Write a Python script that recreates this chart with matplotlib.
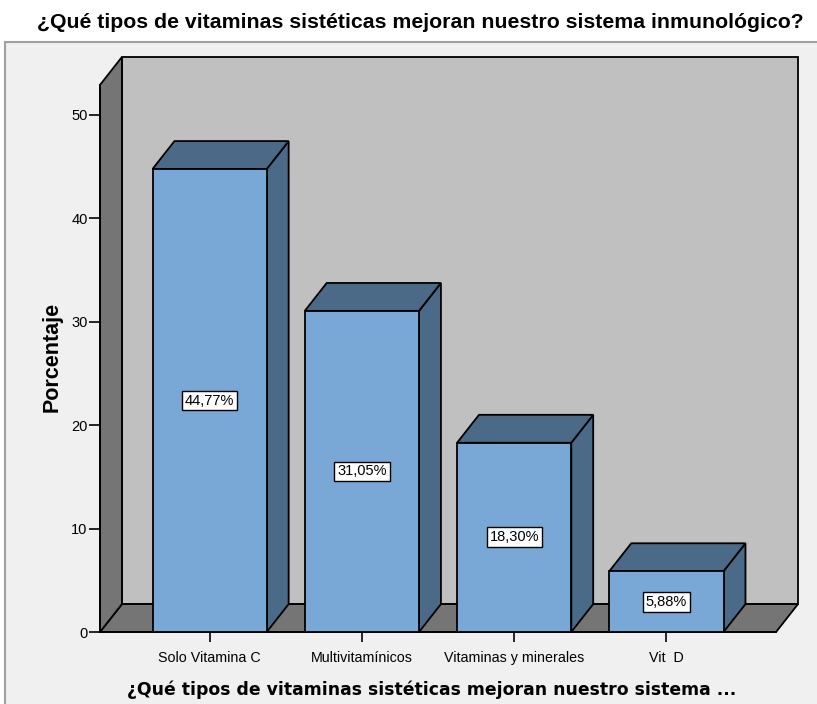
import matplotlib.pyplot as plt
from matplotlib.patches import Polygon, Rectangle

categories = ['Solo Vitamina C', 'Multivitamínicos', 'Vitaminas y minerales', 'Vit  D']
values = [44.77, 31.05, 18.30, 5.88]
yticks = [0, 10, 20, 30, 40, 50]

front_col = '#7aa8d6'
dark_col = '#4b6a87'
wall_col = '#c0c0c0'
side_col = '#757575'

fig = plt.figure(figsize=(8.17, 7.04), dpi=100)
fig.patch.set_facecolor('white')

# chart frame
fig.patches.append(Rectangle((5 / 817, -0.01), 1.0, (704 - 42) / 704 + 0.01,
                             transform=fig.transFigure, facecolor='#f0f0f0',
                             edgecolor='#a0a0a0', linewidth=1.5, zorder=-5))

ax = fig.add_axes([100 / 817, (704 - 632) / 704, 698 / 817, 575 / 704])
ax.set_facecolor('none')

x0, x1 = -0.72, 3.72
dx, dy = 0.144, 2.7
top = 52.9
w = 0.75
ax.set_xlim(x0, x1 + dx)
ax.set_ylim(0, top + dy)

ec = dict(edgecolor='black', linewidth=1.3, clip_on=False)
# back wall, floor, left wall
ax.add_patch(Polygon([(x0 + dx, dy), (x1 + dx, dy), (x1 + dx, top + dy), (x0 + dx, top + dy)],
                     facecolor=wall_col, zorder=1, **ec))
ax.add_patch(Polygon([(x0, 0), (x1, 0), (x1 + dx, dy), (x0 + dx, dy)],
                     facecolor=side_col, zorder=1, **ec))
ax.add_patch(Polygon([(x0, 0), (x0 + dx, dy), (x0 + dx, top + dy), (x0, top)],
                     facecolor=side_col, zorder=1, **ec))

for i, v in enumerate(values):
    l, r = i - w / 2, i + w / 2
    ax.add_patch(Polygon([(r, 0), (r + dx, dy), (r + dx, v + dy), (r, v)],
                         facecolor=dark_col, zorder=2, **ec))
    ax.add_patch(Polygon([(l, v), (r, v), (r + dx, v + dy), (l + dx, v + dy)],
                         facecolor=dark_col, zorder=2, **ec))
    ax.add_patch(Polygon([(l, 0), (r, 0), (r, v), (l, v)],
                         facecolor=front_col, zorder=3, **ec))
    ax.text(i, v / 2, f'{v:.2f}%'.replace('.', ','), ha='center', va='center',
            fontsize=10.5, family='Liberation Sans', zorder=4,
            bbox=dict(boxstyle='square,pad=0.2', facecolor='white', edgecolor='black', linewidth=1.0))

for s in ['top', 'right']:
    ax.spines[s].set_visible(False)
ax.spines['left'].set_bounds(0, top)
ax.spines['bottom'].set_bounds(x0, x1)
ax.spines['left'].set_linewidth(1.3)
ax.spines['bottom'].set_linewidth(1.3)
ax.spines['left'].set_zorder(5)

ax.set_yticks(yticks)
ax.set_yticklabels([str(t) for t in yticks], family='Liberation Sans', fontsize=10.5)
ax.set_xticks(range(len(categories)))
ax.set_xticklabels(categories, family='Liberation Sans', fontsize=10.3)
ax.tick_params(axis='y', length=8, width=1.2, pad=1)
ax.tick_params(axis='x', length=7, width=1.2, pad=7)

# axis titles placed where the original puts them
fig.text(52 / 817, 1 - 357 / 704, 'Porcentaje', rotation=90, ha='center', va='center',
         fontsize=15.5, fontweight='bold', family='Liberation Sans')
fig.text(431.5 / 817, 1 - 690 / 704, '¿Qué tipos de vitaminas sistéticas mejoran nuestro sistema ...',
         ha='center', va='center', fontsize=12.4, fontweight='bold')

fig.text(0.515, 1 - 23 / 704, '¿Qué tipos de vitaminas sistéticas mejoran nuestro sistema inmunológico?',
         ha='center', va='center', fontsize=15.3, fontweight='bold', family='Liberation Sans')

fig.savefig('out.png', dpi=100)
